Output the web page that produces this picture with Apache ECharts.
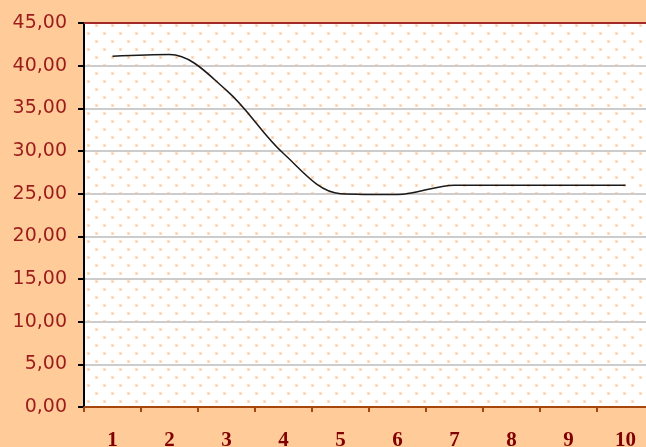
<!DOCTYPE html>
<html>
<head>
<meta charset="utf-8">
<script src="https://cdn.jsdelivr.net/npm/echarts@6/dist/echarts.min.js"></script>
<style>html,body{margin:0;padding:0;background:#FFCC99;}#c{width:646px;height:447px;}</style>
</head>
<body>
<div id="c"></div>
<script>
var categories = ['1','2','3','4','5','6','7','8','9','10'];
var values = [41.1, 41.3, 37.1, 29.7, 25.0, 24.9, 26.0, 26.0, 26.0, 26.0];
var yTicks = [0,5,10,15,20,25,30,35,40,45];

// dotted pattern
var pc = document.createElement('canvas');
pc.width = 16; pc.height = 16;
var g = pc.getContext('2d');
g.fillStyle = '#FFFFFF'; g.fillRect(0,0,16,16);
function dot(x,y){
  g.fillStyle = '#FDE0C4'; g.fillRect(x-1,y-1,3,3);
  g.fillStyle = '#F9C08A'; g.fillRect(x,y,1,1);
}
dot(8,1); dot(0,9); dot(16,9);

var chart = echarts.init(document.getElementById('c'));
chart.setOption({
  backgroundColor: '#FFCC99',
  animation: false,
  grid: {left: 84, top: 23, width: 570, height: 384, show: true, backgroundColor: {image: pc, repeat: 'repeat'}, borderWidth: 0, containLabel: false, outerBoundsMode: 'none'},
  xAxis: [{
    type: 'category', data: categories, boundaryGap: true,
    axisLine: {lineStyle: {color: '#A4460E', width: 2}},
    axisTick: {show: true, length: 5, lineStyle: {color: '#A4460E', width: 2}},
    axisLabel: {color: '#800000', fontFamily: 'Liberation Serif', fontWeight: 'bold', fontSize: 21, margin: 23},
    splitLine: {show: false}
  },{
    type: 'category', data: categories, position: 'top',
    axisLine: {lineStyle: {color: '#A52A2A', width: 2}},
    axisTick: {show: false}, axisLabel: {show: false}
  }],
  yAxis: {
    type: 'value', min: 0, max: 45, interval: 5,
    axisLine: {show: true, lineStyle: {color: '#000000', width: 2}},
    axisTick: {show: true, length: 6, lineStyle: {color: '#000000', width: 2}},
    axisLabel: {color: '#9B1C1C', fontFamily: 'DejaVu Sans', fontSize: 19, margin: 17,
      formatter: function(v){ return v.toFixed(2).replace('.', ','); }},
    splitLine: {lineStyle: {color: '#CCCCCC', width: 2}}
  },
  series: [{
    type: 'line', data: values, smooth: 0.35, symbol: 'none',
    lineStyle: {color: '#1A1A1A', width: 1.5}
  }]
});
</script>
</body>
</html>
